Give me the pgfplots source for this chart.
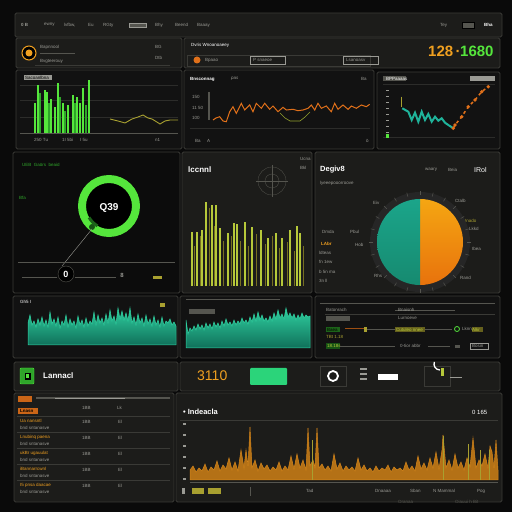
\documentclass[border=0pt]{standalone}
\usepackage{pgfplots}
\pgfplotsset{compat=1.18}
\usepackage{fontspec}
\setmainfont{Liberation Sans}
\definecolor{bg}{HTML}{0A0A0A}
\definecolor{pan}{HTML}{1C1C1A}
\definecolor{pandk}{HTML}{121212}
\definecolor{panbk}{HTML}{0C0C0C}
\definecolor{edge}{HTML}{3A3A36}
\definecolor{gry}{HTML}{9A9A94}
\definecolor{dgry}{HTML}{55554F}
\definecolor{grid}{HTML}{2C2C2A}
\definecolor{lgreen}{HTML}{55E63C}
\definecolor{mgreen}{HTML}{2FA52A}
\definecolor{olive}{HTML}{A8A030}
\definecolor{orng}{HTML}{E0701A}
\definecolor{orng2}{HTML}{F0A020}
\definecolor{tealc}{HTML}{1AA584}
\definecolor{tealt}{HTML}{2FD0A0}
\definecolor{tealb}{HTML}{10705A}
\definecolor{tealline}{HTML}{1FB39A}
\definecolor{ygreen}{HTML}{B6C83A}
\definecolor{spk}{HTML}{D4851A}
\definecolor{btn}{HTML}{2BD47A}
\definecolor{pieo1}{HTML}{F5A612}
\definecolor{pieo2}{HTML}{E8720C}
\definecolor{piet1}{HTML}{1BA58A}
\definecolor{piet2}{HTML}{168A70}
\newcommand{\panel}[5][pan]{\filldraw[fill=#1,draw=edge,line width=0.8pt,rounded corners=1.5pt] (#2,#3) rectangle (#4,#5);}
\newcommand{\tx}[4][gry]{\node[anchor=west,inner sep=0pt,text=#1,font=\fontsize{4.5}{5}\selectfont] at (#2,#3) {#4};}
\pgfplotsset{pa/.style={scale only axis,hide axis,enlargelimits=false,clip=false,anchor=south west}}
\pgfplotstableread{
x y
402.3 31.7
408.3 28.3
411.7 20
415 27.3
418.3 18.3
421.7 28.3
425 20
428.3 26
431.7 18.3
435 23.3
438.3 19.3
441.7 21.7
445 17.3
448.3 15
453.3 11.7
}\tealdata
\begin{document}
\begin{tikzpicture}
\useasboundingbox (0,0) rectangle (512pt,512pt);
\fill[bg] (0,0) rectangle (512pt,512pt);
\begin{scope}[x=1pt,y=-1pt,shift={(0,512pt)}]
% top bar
\panel[pan]{15}{13}{502}{37}
\tx[gry]{21}{25}{\textbf{0 B}}
\tx{44}{25}{ewny}\tx{64}{25}{lvfbw,}\tx{88}{25}{Eu}\tx{103}{25}{RGty}
\filldraw[fill=dgry,draw=gry,line width=0.3pt] (129,23) rectangle (146,27);
\tx{155}{25}{Bhy}\tx{175}{25}{Beend}\tx{197}{25}{Baaay}
\tx{440}{25}{Tey}\filldraw[fill=dgry] (462,22) rectangle (474,28);\tx[white]{484}{25}{\textbf{Bha}}
% header row
\panel[pan]{16}{38}{182}{68}
\panel[pan]{184}{38}{500}{68}
\filldraw[fill=black,draw=orng2,line width=1pt] (29,53) circle (7);
\fill[orng2] (29,53) circle (3.5);
\tx{40}{47}{Bapnnool}\draw[dgry] (40,53)--(75,53);
\tx{40}{61}{Bvgteerouy}
\tx[gry]{155}{47}{BG}\tx{155}{58}{Dtb}
\draw[edge] (35,65)--(170,65);
\tx[white]{191}{45}{Dvris Wnoanoaeey}
\draw[edge] (187,55) rectangle (370,66);
\fill[orng] (197,60) circle (3.5);\tx{205}{60}{Bpaao}
\draw[gry] (250,56) rectangle (285,64);\tx{253}{60}{P snaeoe}
\draw[gry] (343,56) rectangle (378,64);\tx{346}{60}{Lsanoasv}
\node[anchor=west,inner sep=0pt,font=\bfseries\fontsize{15}{15}\selectfont,text=orng2] at (428,51) {128\,·};
\node[anchor=west,inner sep=0pt,font=\bfseries\fontsize{15}{15}\selectfont,text=lgreen] at (460,51) {1680};
% row 2
\panel[pandk]{16}{70}{182}{149}
\panel[pandk]{184}{70}{374}{149}
\panel[pandk]{377}{72}{500}{149}
\foreach \yy in {85,100,117} {\draw[grid,line width=0.5pt] (20,\yy)--(178,\yy);}
\draw[dgry,line width=0.6pt] (20,133)--(178,133);
\fill[gry] (24,75) rectangle (52,80);\tx[black]{25}{77.5}{Sacoanlbna}
\tx{34}{140}{250 Tu}\tx{62}{140}{1I 5bi}\tx{80}{140}{I 5u}\tx{155}{140}{n1}
\tx[white]{190}{79}{\textbf{Bnsconnag}}\tx{231}{79}{\textit{pas}}\tx{361}{79}{Ba}
\tx{192}{97}{150}\tx{192}{108}{11 50}\tx{192}{118}{100}
\draw[dgry,line width=2pt] (209,92)--(209,120);
\draw[grid] (190,128)--(370,128);
\tx{195}{141}{Ba}\tx{207}{141}{A}\tx{366}{141}{ö}
\fill[dgry] (383,76) rectangle (406,81);\tx[white]{386}{78.5}{BPPaaaas}
\fill[gry] (470,76) rectangle (495,81);
\draw[grid] (383,84)--(495,84);\draw[grid] (383,137)--(495,137);
\foreach \yy in {90,96,102,108,114,120,126,132} {\draw[gry,line width=0.6pt] (386,\yy)--(389,\yy);}
\fill[lgreen] (386,134) rectangle (389,138);
% row 3
\panel[panbk]{13}{152}{180}{293}
\panel[pan]{182}{152}{312}{293}
\panel[pan]{315}{152}{500}{293}
\tx[mgreen]{22}{165}{UEB\ \ Gaörs\ \ beaid}
\tx[mgreen]{19}{198}{Bfa}
% donut gauge
\fill[black] (109,206) circle (31);
\draw[lgreen,line width=8pt] (109,206) circle (27);
\draw[mgreen!60!black,line width=3pt] (109,206) ++(120:23) arc (120:150:23);
\fill[mgreen!50!black] (92,227) circle (3);
\node[text=white,font=\bfseries\fontsize{10}{10}\selectfont] at (109,208) {Q39};
\draw[gry,line width=0.4pt] (92,229)--(62,266);
\draw[dgry,line width=0.8pt] (18,262)--(175,262);
\draw[dgry,line width=0.5pt] (22,277)--(57,277);\draw[dgry,line width=0.5pt] (75,277)--(116,277);
\filldraw[fill=black,draw=dgry] (66,274) circle (8);
\node[text=white,font=\bfseries\fontsize{9}{9}\selectfont] at (66,274) {0};
\node[text=gry,font=\fontsize{6}{6}\selectfont] at (122,275) {\textbf{8}};
\fill[olive] (153,276) rectangle (162,279);
% spikes panel texts
\node[anchor=west,inner sep=0pt,text=white,font=\bfseries\fontsize{8}{8}\selectfont] at (188,170) {lccnnl};
\tx{300}{159}{Ucna}\tx{300}{168}{Bkl}
\draw[dgry,line width=0.3pt] (272,181) circle (14);\draw[dgry,line width=0.3pt] (272,181) circle (7);
\draw[dgry,line width=0.3pt] (256,181)--(288,181);\draw[dgry,line width=0.3pt] (272,165)--(272,197);
% pie panel
\node[anchor=west,inner sep=0pt,text=white,font=\bfseries\fontsize{7.5}{8}\selectfont] at (320,170) {Degiv8};
\tx{425}{170}{waary}\tx{448}{170}{Beia}\node[anchor=west,inner sep=0pt,text=white,font=\fontsize{7}{7}\selectfont] at (474,170) {IRol};
\tx{320}{183}{lyeeepooorroove}
\tx{373}{203}{Eiv}\tx{322}{232}{Dmda}\tx{350}{232}{Pbul}
\tx[orng2]{321}{244}{\textbf{LAbr}}\tx{355}{245}{Hob}
\tx{319}{253}{ldteas}\tx{319}{262}{fn 1ew}\tx{319}{272}{b 5n ma}\tx{319}{281}{3n ll}
\tx{374}{276}{Rhs}\tx{455}{201}{Ctalb}\tx[olive]{465}{221}{Inado}\tx{469}{229}{Lkkd}
\tx{472}{249}{Ibea}\tx{460}{278}{Rand}
% row 4
\panel[pandk]{13}{296}{178}{358}
\panel[pandk]{180}{296}{312}{358}
\panel[pandk]{315}{296}{500}{358}
\tx[white]{20}{302}{Gh5 I}\fill[olive] (160,303) rectangle (165,307);
\draw[dgry] (186,299)--(280,299);
\fill[dgry] (189,309) rectangle (215,314);
\draw[dgry] (320,303)--(495,303);
\tx{326}{310}{Batonrach}\draw[dgry] (395,310)--(455,310);\tx{398}{310}{Bnaisnh}
\draw[edge] (325,314)--(495,314);\fill[dgry] (326,316) rectangle (350,321);\tx{398}{318}{Lurnoeve}
\fill[mgreen!60!black] (326,327) rectangle (340,332);\tx[black]{327}{329.5}{Baea}
\draw[orng!70!black,line width=1pt] (345,329)--(365,329);\fill[olive] (364,327) rectangle (367,332);
\draw[dgry] (367,329)--(395,329);\fill[olive!60!black] (395,327) rectangle (425,332);\tx[ygreen]{396}{329.5}{Cutuleo nnee}
\draw[dgry] (425,329)--(452,329);\draw[lgreen,line width=0.8pt] (457,329) circle (2.5);
\tx{462}{329}{Lknn}\fill[olive!60!black] (472,327) rectangle (483,332);\tx[ygreen]{472}{329.5}{Alkr}
\tx[olive]{326}{337}{TBt 1.18}
\fill[mgreen!50!black] (326,343) rectangle (340,349);\tx[ygreen]{327}{346}{18.18s}
\draw[dgry] (340,346)--(395,346);\tx{400}{346}{0-tior abbr}\draw[dgry] (428,346)--(450,346);
\fill[dgry] (455,345) rectangle (460,348);\draw[gry] (470,343) rectangle (488,349);\tx{472}{346}{Bosin}
% row 5
\panel[pan]{14}{362}{178}{391}
\panel[pan]{180}{362}{500}{391}
\filldraw[fill=mgreen,draw=lgreen,rounded corners=1pt] (20,368) rectangle (34,384);
\fill[black] (25,373) rectangle (31,380);\fill[lgreen] (26,374) rectangle (29,378);
\node[anchor=west,inner sep=0pt,text=white,font=\bfseries\fontsize{8}{8}\selectfont] at (43,376) {Lannacl};
\node[anchor=west,inner sep=0pt,text=orng2,font=\fontsize{14}{14}\selectfont] at (197,376) {3110};
\fill[btn,rounded corners=1pt] (250,368) rectangle (287,385);
\draw[edge,line width=0.5pt] (320,366) rectangle (346,386);
\draw[white,line width=1.8pt] (333,376) circle (5);
\fill[gry] (360,368) rectangle (367,370);\fill[gry] (360,373) rectangle (367,375);\fill[gry] (360,378) rectangle (367,380);
\fill[white] (378,374) rectangle (398,380);
\draw[edge,line width=0.5pt] (424,366) rectangle (450,386);
\draw[white,line width=1.3pt] (440,370) arc (90:200:6);\fill[ygreen] (441,368) rectangle (444,376);
\draw[gry] (450,377)--(462,377);
% row 6
\panel[pan]{14}{393}{174}{502}
\panel[pan]{176}{393}{502}{502}
\fill[orng!90!black] (18,396) rectangle (32,402);
\draw[dgry,line width=1.5pt] (36,398)--(170,398);\draw[gry,line width=0.6pt] (55,398)--(125,398);
\fill[orng!90!black] (18,408) rectangle (38,414);\tx[black]{20}{411}{\textbf{Lnasn}}
\tx{82}{408}{1BB}\tx{117}{408}{Lk}
\foreach \yy/\lab in {421/{Ua nansntl},437/{Lnubinq paena},453/{ukBr ugauulat},469/{iBannarrcwnl},485/{ I5 pnsa daacae}} {
 \draw[edge,line width=0.6pt] (17,\yy-5)--(170,\yy-5);
 \tx[orng2]{20}{\yy}{\lab}
 \tx{20}{\yy+7}{bnd sntanasve}
 \tx{82}{\yy+1}{1BB}\tx{118}{\yy+1}{El}
}
\node[anchor=west,inner sep=0pt,text=white,font=\bfseries\fontsize{7.5}{8}\selectfont] at (183,412) {\textbullet\ Indeacla};
\node[anchor=west,inner sep=0pt,text=white,font=\fontsize{6}{6}\selectfont] at (472,412) {0 165};
\draw[edge,line width=0.8pt] (180,420)--(498,420);
\foreach \yy in {423,434,445,456,467,478} {\fill[gry] (183,\yy) rectangle (186,\yy+2);}
\draw[dgry,line width=0.5pt] (190,482)--(498,482);
\fill[gry] (182,488) rectangle (185,494);
\fill[olive] (192,488) rectangle (204,494);\fill[olive] (208,488) rectangle (221,494);
\fill[dgry] (250,487) rectangle (251,496);
\tx{306}{491}{Tad}\tx{375}{491}{Dnaaaa}\tx{410}{491}{Sban}\tx{433}{491}{N Mammal}\tx{477}{491}{Pog}
\tx[dgry]{398}{502}{Oranaa}\tx[dgry]{455}{502}{Oiauui h Bit}
\end{scope}
% ===== charts =====
% green bars + olive line
\begin{axis}[pa,at={(18pt,379pt)},width=162pt,height=55pt,xmin=18,xmax=180,ymin=0,ymax=55]
\addplot[ycomb,mgreen,line width=2.8pt] coordinates {(40,40)(49,30)(60,36)(65,22)(75,30)(86,28)};
\addplot[ycomb,lgreen,line width=2.6pt] coordinates {(35,30)(38,48)(45,43)(47,41)(51,34)(55,26)(58,50)(63,30)(68,28)(73,38)(77,36)(80,30)(83,45)(89,53)};
\addplot[olive,line width=0.9pt] coordinates {(110,14)(118,12)(125,10)(132,14)(138,16)(143,18)(148,15)(152,14)(160,9)(165,12)(170,13)(178,13)};
\end{axis}
% orange line
\begin{axis}[pa,at={(200pt,382pt)},width=172pt,height=45pt,xmin=200,xmax=372,ymin=0,ymax=45]
\addplot[ygreen!80!black,line width=0.6pt] coordinates {(280,17)(285,12)(290,9)(300,9)(305,13)(310,18)};
\addplot[orng,line width=1pt] coordinates {(213,10)(216,12)(219.7,13.3)(223,9)(226.3,8.3)(229.7,18.3)(233,23.3)(236.3,16.7)(241.3,26.7)(244.7,20)(249.7,25)(253,18.3)(256.3,26.7)(261.3,21.7)(264.7,26.7)(269.7,20.7)(273,24)(278,18.3)(283,22.7)(286.3,20)(293,20.7)(298,19.3)(303,20)(308,21.7)(311.3,25)(314.7,20)(318,26.7)(321.3,21.7)(326.3,24)(331.3,18.3)(334.7,26.7)(338,20.7)(343,25)(348,20.7)(351.3,24)(356.3,21.7)(361.3,25)(366.3,23.3)(369.7,25.7)};
\end{axis}
% teal + orange dashed
\begin{axis}[pa,at={(383pt,372pt)},width=112pt,height=60pt,xmin=383,xmax=495,ymin=0,ymax=60]
\addplot[draw=tealline,line width=2pt,mark=none,solid] table[x=x,y=y] {\tealdata};
\addplot[olive,line width=1.5pt] coordinates {(401.7,43.3)(401.7,33)};
\addplot[orng,line width=1.5pt,dashed,mark=*,mark size=0.8pt,mark options={solid}] coordinates {(453.3,11.7)(455,15)(461.7,23.3)(468.3,33.3)(475,40)(481.7,48.3)(488.3,53.3)};
\end{axis}
% yellow-green spikes
\begin{axis}[pa,at={(185pt,226pt)},width=125pt,height=91pt,xmin=185,xmax=310,ymin=0,ymax=91]
\addplot[ycomb,olive!70!black,line width=0.8pt] coordinates {(194,40)(200,50)(209,78)(214,60)(223,45)(231,50)(240,45)(248,40)(256,52)(265,42)(272,50)(279,38)(287,44)(294,35)(303,40)};
\addplot[ycomb,ygreen,line width=1.1pt] coordinates {(192,54)(197,54)(202,56)(206,84)(212,81)(216,81)(220,58)(228,53)(234,63)(237,62)(245,64)(252,59)(261,56)(268,48)(276,53)(282,48)(290,56)(297,60)(300,53)};
\end{axis}
% teal area 1
\begin{axis}[pa,at={(28pt,167pt)},width=149pt,height=40pt,xmin=28,xmax=177,ymin=0,ymax=40]
\addplot[top color=tealt,bottom color=tealb,draw=tealt,line width=0.5pt] coordinates {(28,22)(30,30)(32,20)(34,24)(36,18)(38,26)(40,20)(42,28)(44,19)(46,25)(48,18)(50,33)(52,21)(54,26)(56,19)(58,28)(60,17)(62,24)(64,20)(66,30)(68,18)(70,26)(72,20)(74,24)(76,17)(78,29)(80,20)(82,25)(84,18)(86,27)(88,19)(90,24)(92,21)(94,33)(96,20)(98,30)(100,22)(102,27)(104,20)(106,31)(108,22)(110,35)(112,24)(114,29)(116,21)(118,37)(120,26)(122,34)(124,25)(126,32)(128,24)(130,37)(132,22)(134,28)(136,20)(138,31)(140,22)(142,27)(144,19)(146,30)(148,21)(150,26)(152,19)(154,29)(156,20)(158,25)(160,18)(162,28)(164,19)(166,24)(168,22)(170,26)(172,20)(174,23)(176,19)} \closedcycle;
\end{axis}
% teal area 2
\begin{axis}[pa,at={(186pt,164pt)},width=124pt,height=43pt,xmin=186,xmax=310,ymin=0,ymax=43]
\addplot[top color=tealt,bottom color=tealb,draw=tealt,line width=0.5pt] coordinates {(186,28)(188,14)(190,20)(192,17)(194,22)(196,18)(198,24)(200,19)(202,23)(204,18)(206,25)(208,20)(210,24)(212,19)(214,26)(216,21)(218,25)(220,20)(222,27)(224,22)(226,29)(228,23)(230,26)(232,22)(234,28)(236,23)(238,27)(240,24)(242,30)(244,25)(246,28)(248,24)(250,31)(252,26)(254,34)(256,27)(258,36)(260,28)(262,33)(264,27)(266,30)(268,26)(270,32)(272,27)(274,35)(276,29)(278,38)(280,30)(282,34)(284,29)(286,40)(288,31)(290,35)(292,30)(294,34)(296,28)(298,33)(300,29)(302,35)(304,30)(306,33)(308,31)(310,32)} \closedcycle;
\end{axis}
% orange spikes
\begin{axis}[pa,at={(190pt,32pt)},width=308pt,height=60pt,xmin=190,xmax=498,ymin=0,ymax=60]
\addplot[fill=spk!85!black,draw=spk,line width=0.5pt] coordinates {(190,10)(193,14)(196,8)(199,12)(202,9)(205,16)(208,8)(211,13)(214,10)(217,19)(220,9)(223,15)(226,11)(229,22)(232,10)(235,18)(238,9)(241,30)(244,12)(246,30)(248,14)(250,53)(252,12)(255,20)(258,9)(261,17)(264,11)(267,15)(270,9)(273,13)(276,10)(279,18)(282,9)(285,14)(288,10)(291,24)(294,11)(297,26)(300,12)(303,20)(306,10)(308,52)(310,14)(313,20)(315,12)(317,52)(319,12)(322,16)(325,10)(328,14)(331,9)(334,26)(337,11)(340,17)(343,9)(346,14)(349,10)(352,13)(355,9)(358,22)(361,10)(364,15)(367,9)(370,12)(373,8)(376,14)(379,9)(382,12)(385,10)(388,15)(391,8)(394,13)(397,10)(400,12)(403,9)(406,18)(409,10)(412,14)(415,9)(418,24)(421,11)(424,17)(427,10)(430,22)(433,12)(436,28)(439,11)(442,30)(443,45)(446,12)(449,20)(452,10)(455,26)(458,12)(461,18)(464,10)(467,22)(470,13)(473,42)(476,12)(479,20)(482,14)(485,26)(488,12)(490,34)(492,28)(494,12)(496,40)(498,10)} \closedcycle;
\addplot[ycomb,olive,line width=0.9pt] coordinates {(312,40)(443,44)(468,36)(480,30)(489,30)};
\end{axis}
% pie (values 50 / 50), centre at image (420,242)
\fill[black!85] (420pt,270pt) circle (50pt);
\foreach \a in {0,15,...,345} {\draw[dgry,line width=0.5pt] (420pt,270pt) ++(\a:47pt) -- ++(\a:4pt);}
\shade[top color=pieo1,bottom color=pieo2] (420pt,270pt) -- (420pt,313pt) arc (90:-90:43pt) -- cycle;
\shade[top color=piet1,bottom color=piet2] (420pt,270pt) -- (420pt,313pt) arc (90:270:43pt) -- cycle;
\end{tikzpicture}
\end{document}
